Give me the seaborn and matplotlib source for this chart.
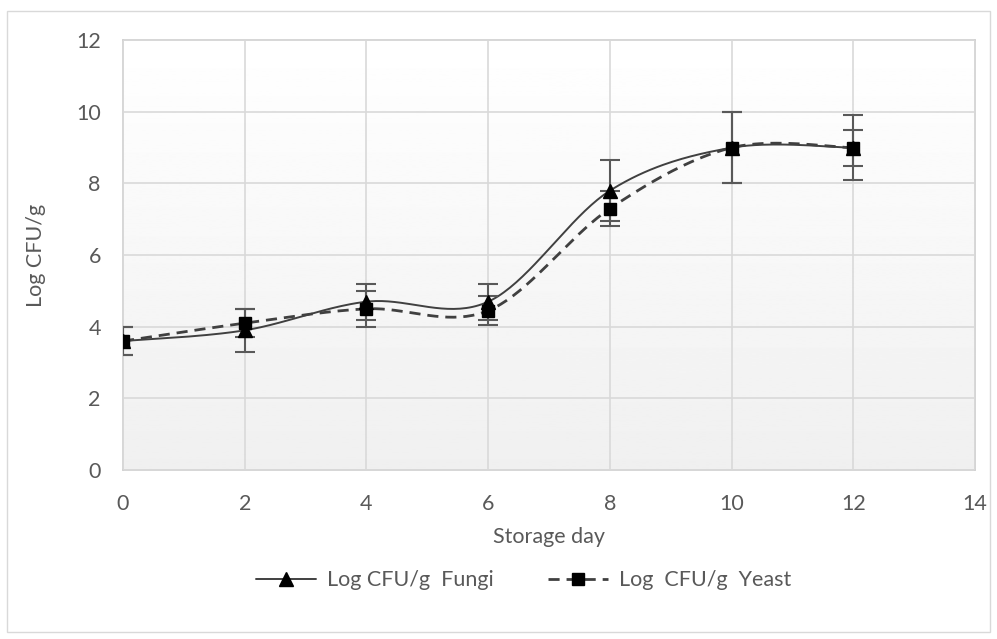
import numpy as np
import pandas as pd
import seaborn as sns
import matplotlib.pyplot as plt
from matplotlib.lines import Line2D

days = [0, 2, 4, 6, 8, 10, 12]
fungi = [3.6, 3.9, 4.7, 4.7, 7.8, 9.0, 9.0]
fungi_err = [0.4, 0.6, 0.5, 0.5, 0.85, 1.0, 0.9]
yeast = [3.6, 4.1, 4.5, 4.45, 7.3, 9.0, 9.0]
yeast_err = [0.4, 0.4, 0.5, 0.4, 0.5, 1.0, 0.5]

sns.set_style('white')
plt.rcParams['font.family'] = ['Lato', 'DejaVu Sans']
txt = '#595959'


def smooth(x, y, n=40):
    # Excel-like smoothed line: cubic Bezier with Catmull-Rom tangents
    p = np.column_stack([x, y]).astype(float)
    ext = np.vstack([p[0], p, p[-1]])
    out = []
    t = np.linspace(0, 1, n)[:, None]
    for i in range(len(p) - 1):
        p0, p3 = ext[i + 1], ext[i + 2]
        c1 = p0 + (ext[i + 2] - ext[i]) / 6
        c2 = p3 - (ext[i + 3] - ext[i + 1]) / 6
        seg = ((1 - t) ** 3) * p0 + 3 * ((1 - t) ** 2) * t * c1 + 3 * (1 - t) * t ** 2 * c2 + t ** 3 * p3
        out.append(seg if i == 0 else seg[1:])
    s = np.vstack(out)
    return s[:, 0], s[:, 1]


fig = plt.figure(figsize=(9.97, 6.39), dpi=100)
ax = fig.add_axes([0.1234, 0.2645, 0.8546, 0.6725])

# gradient plot area
grad = np.linspace(1.0, 0.94, 256)[:, None]
ax.imshow(grad, extent=[0, 14, 0, 12], aspect='auto', cmap='gray', vmin=0, vmax=1,
          origin='upper', zorder=0)

fx, fy = smooth(days, fungi)
yx, yy = smooth(days, yeast)
curve = pd.concat([
    pd.DataFrame({'day': fx, 'val': fy, 'series': 'Fungi'}),
    pd.DataFrame({'day': yx, 'val': yy, 'series': 'Yeast'}),
])
sns.lineplot(data=curve[curve.series == 'Fungi'], x='day', y='val', ax=ax, color='#404040',
             lw=1.4, sort=False, estimator=None, zorder=3)
sns.lineplot(data=curve[curve.series == 'Yeast'], x='day', y='val', ax=ax, color='#404040',
             lw=2.0, sort=False, estimator=None, zorder=3, dashes=False, linestyle=(0, (4, 2.5)))

ax.errorbar(days, fungi, yerr=fungi_err, fmt='none', ecolor='#595959', elinewidth=1.5,
            capsize=7, capthick=1.5, zorder=4)
ax.errorbar(days, yeast, yerr=yeast_err, fmt='none', ecolor='#595959', elinewidth=1.5,
            capsize=7, capthick=1.5, zorder=4)
ax.plot(days, fungi, ls='none', marker='^', ms=10, color='black', zorder=5)
ax.plot(days, yeast, ls='none', marker='s', ms=9, color='black', zorder=6)

ax.set_xlim(0, 14)
ax.set_ylim(0, 12)
ax.set_xticks(range(0, 15, 2))
ax.set_yticks(range(0, 13, 2))
ax.grid(True, color='#d9d9d9', lw=1.2)
ax.set_axisbelow(False)
for gl in ax.get_xgridlines() + ax.get_ygridlines():
    gl.set_zorder(1)
for s in ax.spines.values():
    s.set_color('#d0d0d0')
    s.set_linewidth(1.2)
ax.tick_params(length=0, labelsize=15.5, colors=txt)
ax.tick_params(axis='x', pad=17)
ax.tick_params(axis='y', pad=16)
ax.set_xlabel('Storage day', fontsize=15.5, color=txt, labelpad=10)
ax.set_ylabel('Log CFU/g', fontsize=15.5, color=txt, labelpad=22)

handles = [
    Line2D([], [], color='#404040', lw=1.4, marker='^', ms=10, mfc='black', mec='black'),
    Line2D([], [], color='#404040', lw=2.0, ls=(0, (4, 2.5)), marker='s', ms=9, mfc='black', mec='black'),
]
fig.legend(handles, ['Log CFU/g  Fungi', 'Log  CFU/g  Yeast'], loc='center', ncol=2,
           bbox_to_anchor=(0.525, 0.092), frameon=False, fontsize=15.5, handlelength=2.8,
           handletextpad=0.5, columnspacing=2.5, labelcolor=txt)

fig.add_artist(plt.Rectangle((0.007, 0.011), 0.986, 0.972, transform=fig.transFigure,
                             fill=False, ec='#d9d9d9', lw=1))
fig.savefig('out.png', dpi=100)
